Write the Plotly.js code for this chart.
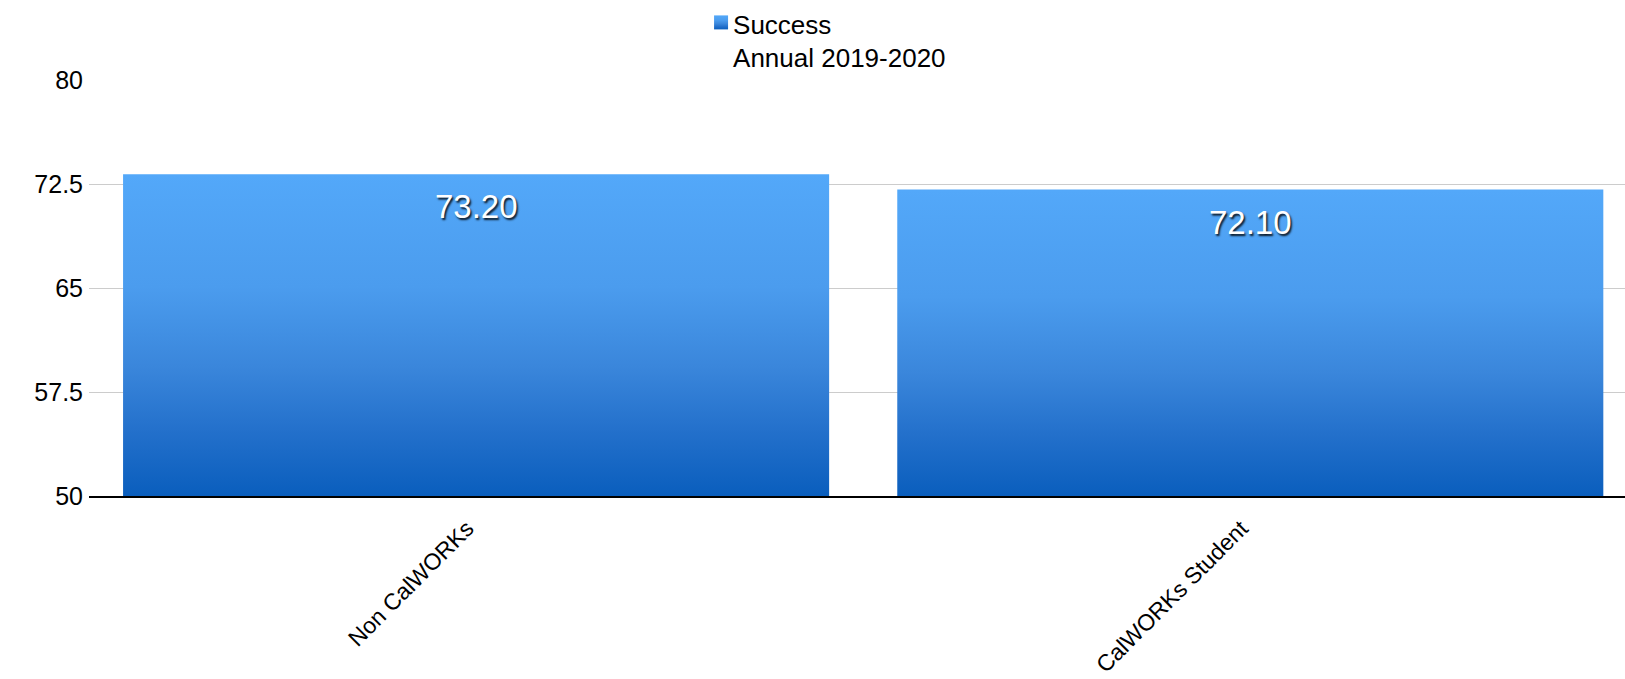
<!DOCTYPE html>
<html><head><meta charset="utf-8">
<script src="https://cdn.plot.ly/plotly-3.0.1.min.js"></script>
<style>html,body{margin:0;padding:0;background:#fff}#chart{width:1625px;height:679px}</style>
</head><body><div id="chart"></div>
<script>
const categories = ['Non CalWORKs', 'CalWORKs Student'];
const successValues = [73.20, 72.10];
const valueLabels = ['73.20', '72.10'];
const seriesName = 'Success<br>Annual 2019-2020';
const yTickValues = [50, 57.5, 65, 72.5, 80];
const yTickLabels = ['50', '57.5', '65', '72.5', '80'];

const FONT = '"Liberation Sans", Arial, sans-serif';
const GRAD_STOPS = [['0', '#53a8f9'], ['0.35', '#4b9cee'], ['0.6', '#3a86db'], ['0.8', '#2370cb'], ['1', '#0a5ebd']];

const data = [{
  type: 'bar',
  x: categories,
  y: successValues,
  name: seriesName,
  showlegend: true,
  marker: {color: '#3a8ee6', line: {width: 0}},
  hoverinfo: 'none'
}];

const annotations = categories.map((c, i) => ({
  x: c, y: successValues[i], xref: 'x', yref: 'y',
  text: valueLabels[i], showarrow: false,
  yanchor: 'top', yshift: -12,
  font: {family: FONT, size: 33, color: '#ffffff', shadow: '1.5px 1.5px 2px rgba(0,0,0,0.85)'}
}));

const layout = {
  width: 1625, height: 679,
  margin: {l: 89, r: 0, t: 80, b: 183, pad: 0, autoexpand: false},
  paper_bgcolor: '#ffffff', plot_bgcolor: '#ffffff',
  font: {family: FONT, color: '#000000'},
  bargap: 0.088,
  showlegend: true,
  legend: {
    xref: 'container', yref: 'container', x: 0.4265, y: 1.006, xanchor: 'left', yanchor: 'top',
    font: {family: FONT, size: 26, color: '#000000'},
    valign: 'top', bgcolor: 'rgba(0,0,0,0)', borderwidth: 0
  },
  xaxis: {
    type: 'category', range: [-0.5, 1.484], fixedrange: true,
    showline: true, linecolor: '#000000', linewidth: 2,
    showgrid: false, zeroline: false, ticks: '',
    tickangle: -45, tickfont: {family: FONT, size: 23, color: '#000000'},
    ticklabelstandoff: 8, ticklabelshift: -9,
    automargin: false
  },
  yaxis: {
    range: [50, 80], tickmode: 'array', tickvals: yTickValues, ticktext: yTickLabels,
    showgrid: true, gridcolor: '#cccccc', gridwidth: 1,
    zeroline: false, showline: false, ticks: '',
    ticklabelstandoff: 5,
    tickfont: {family: FONT, size: 25, color: '#000000'},
    automargin: false, fixedrange: true
  },
  annotations: annotations
};

function makeGradient(defs, id, attrs) {
  const ns = 'http://www.w3.org/2000/svg';
  let lg = document.getElementById(id);
  if (!lg) {
    lg = document.createElementNS(ns, 'linearGradient');
    lg.setAttribute('id', id);
    GRAD_STOPS.forEach(([o, c]) => {
      const s = document.createElementNS(ns, 'stop');
      s.setAttribute('offset', o); s.setAttribute('stop-color', c);
      lg.appendChild(s);
    });
    defs.appendChild(lg);
  }
  Object.keys(attrs).forEach(k => lg.setAttribute(k, attrs[k]));
}

function applyGradient(gd) {
  const ns = 'http://www.w3.org/2000/svg';
  const svg = gd.querySelector('svg.main-svg');
  if (!svg) return;
  let defs = svg.querySelector('defs');
  if (!defs) { defs = document.createElementNS(ns, 'defs'); svg.insertBefore(defs, svg.firstChild); }
  const ya = gd._fullLayout.yaxis;
  const yBottom = ya.l2p(ya.range[0]);
  gd.querySelectorAll('.barlayer .point path').forEach((p, i) => {
    const id = 'barGrad' + i;
    makeGradient(defs, id, {
      gradientUnits: 'userSpaceOnUse', x1: 0, x2: 0,
      y1: ya.l2p(successValues[i]), y2: yBottom
    });
    p.style.fill = 'url(#' + id + ')';
  });
  makeGradient(defs, 'legGrad', {x1: 0, y1: 0, x2: 0, y2: 1});
  gd.querySelectorAll('.legend .legendpoints path').forEach(p => {
    p.style.fill = 'url(#legGrad)';
    p.setAttribute('d', 'M7,7H-7V-7H7Z');
  });
  gd.querySelectorAll('.legend .legendpoints').forEach(g => g.setAttribute('transform', 'translate(8,-1)'));
}

const gdiv = document.getElementById('chart');
Plotly.newPlot(gdiv, data, layout, {staticPlot: true, displayModeBar: false}).then(gd => {
  applyGradient(gd);
  gd.on('plotly_afterplot', () => applyGradient(gd));
  setTimeout(() => applyGradient(gd), 50);
});
</script>
</body></html>
